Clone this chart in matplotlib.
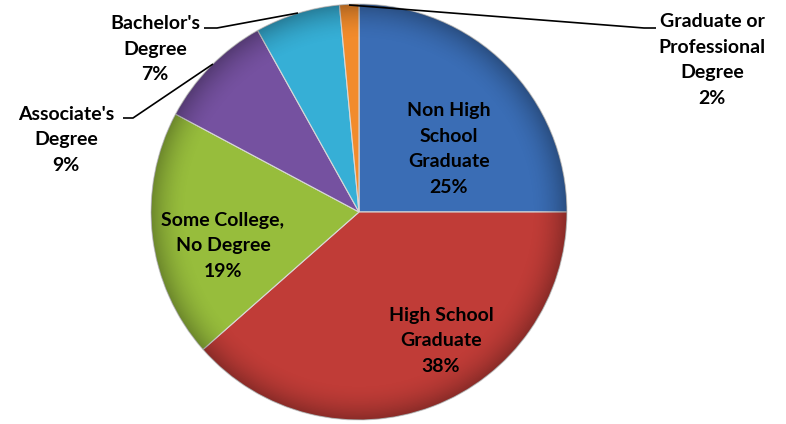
import numpy as np
import matplotlib.pyplot as plt
from matplotlib.patches import Circle

plt.rcParams['font.family'] = ['Lato', 'DejaVu Sans']

categories = ["Non High\nSchool\nGraduate", "High School\nGraduate", "Some College,\nNo Degree",
              "Associate's\nDegree", "Bachelor's\nDegree", "Graduate or\nProfessional\nDegree"]
shares = [25.0, 38.5, 19.3, 9.1, 6.6, 1.5]
pct_labels = ["25%", "38%", "19%", "9%", "7%", "2%"]
colors = ['#3a6db5', '#c03c37', '#97bd3c', '#7551a0', '#36afd6', '#f28b2c']

W, H = 786, 424
cx, cy, r = 359, H - 212, 208

fig = plt.figure(figsize=(W / 100, H / 100), dpi=100)
ax = fig.add_axes([0, 0, 1, 1])

wedges, _ = ax.pie(shares, colors=colors, startangle=90, counterclock=False,
                   center=(cx, cy), radius=r, frame=True,
                   wedgeprops=dict(edgecolor='#d8d8d8', linewidth=0.8))
ax.set_xlim(0, W)
ax.set_ylim(0, H)
ax.set_aspect('equal')
ax.axis('off')

# soft bevel: darker rim
yy, xx = np.mgrid[-1:1:400j, -1:1:400j]
rr = np.sqrt(xx**2 + yy**2)
shade = np.zeros((400, 400, 4))
shade[..., 3] = np.clip((rr - 0.82) / 0.18, 0, 1) ** 2 * 0.28
img = ax.imshow(shade, extent=(cx - r, cx + r, cy - r, cy + r), zorder=3)
img.set_clip_path(Circle((cx, cy), r, transform=ax.transData))

txt = dict(ha='center', va='center', fontsize=14, fontweight='bold', linespacing=1.6, zorder=5)

# inside labels
inside = {0: (449, 149), 1: (441, 341), 2: (223, 246)}
for i, (px, py) in inside.items():
    ax.text(px, H - py, categories[i] + "\n" + pct_labels[i], **txt)

# outside labels with leader lines
outside = {3: (66, 140), 4: (155, 49), 5: (712, 60)}
for i, (px, py) in outside.items():
    ax.text(px, H - py, categories[i] + "\n" + pct_labels[i], **txt)

leaders = [
    [(123, 118), (133, 118), (213, 64)],
    [(204, 28), (217, 28), (298, 13)],
    [(656, 28), (644, 28), (349, 5)],
]
for pts in leaders:
    xs = [p[0] for p in pts]
    ys = [H - p[1] for p in pts]
    ax.plot(xs, ys, color='black', lw=1.2, zorder=6, solid_capstyle='butt')

fig.savefig('out.png', dpi=100)
